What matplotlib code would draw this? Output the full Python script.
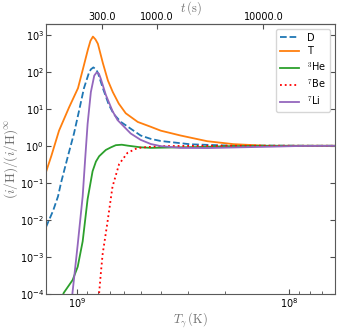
import numpy as np
import matplotlib
matplotlib.use("Agg")
import matplotlib.pyplot as plt
from matplotlib.ticker import FixedLocator, FormatStrFormatter, NullLocator, NullFormatter

plt.rcParams['mathtext.fontset'] = 'cm'

# values: photon temperature (K) and (i/H)/(i/H)^inf
T_D = [1.40e9, 1.296e9, 1.228e9, 1.189e9, 1.102e9, 1.033e9, 0.979e9, 0.927e9, 0.878e9,
       0.860e9, 0.837e9, 0.814e9, 0.797e9, 0.755e9, 0.708e9, 0.670e9, 0.621e9, 0.558e9,
       0.501e9, 0.449e9, 0.403e9, 0.292e9, 0.200e9, 0.0608e9]
D = [6.3e-3, 0.0175, 0.0431, 0.100, 0.538, 2.15, 8.55, 36.2, 94.7,
     117, 132, 117, 94.7, 36.2, 13.0, 7.14, 4.42, 2.90,
     1.90, 1.54, 1.35, 1.10, 1.02, 1.0]

T_T = [1.40e9, 1.32e9, 1.215e9, 1.09e9, 0.989e9, 0.937e9, 0.888e9, 0.864e9, 0.841e9,
       0.818e9, 0.797e9, 0.755e9, 0.715e9, 0.678e9, 0.635e9, 0.589e9, 0.517e9, 0.449e9,
       0.403e9, 0.325e9, 0.243e9, 0.183e9, 0.127e9, 0.0608e9]
Tr = [0.194, 0.538, 2.57, 10.9, 36.2, 120, 401, 689, 900,
      754, 575, 173, 58.6, 28.5, 13.8, 7.59, 4.42, 3.27,
      2.57, 1.90, 1.33, 1.11, 1.0, 1.0]

T_He3 = [1.176e9, 1.155e9, 1.048e9, 0.992e9, 0.940e9, 0.891e9, 0.844e9, 0.814e9, 0.786e9,
         0.752e9, 0.731e9, 0.692e9, 0.656e9, 0.615e9, 0.576e9, 0.501e9, 0.449e9, 0.362e9,
         0.262e9, 0.189e9, 0.137e9, 0.0608e9]
He3 = [7.8e-5, 1.05e-4, 2.35e-4, 5.35e-4, 2.60e-3, 0.0360, 0.206, 0.375, 0.522,
       0.664, 0.773, 0.908, 1.04, 1.07, 1.01, 0.91, 0.88, 0.90,
       0.93, 0.98, 1.0, 1.0]

T_Be7 = [0.797e9, 0.786e9, 0.772e9, 0.757e9, 0.718e9, 0.680e9, 0.633e9, 0.578e9, 0.519e9,
         0.466e9, 0.403e9, 0.262e9, 0.0608e9]
Be7 = [7.8e-5, 1.05e-4, 3.52e-4, 1.17e-3, 8.65e-3, 0.0786, 0.319, 0.645, 0.87,
       0.925, 0.98, 1.0, 1.0]

T_Li7 = [1.067e9, 1.050e9, 0.992e9, 0.940e9, 0.914e9, 0.891e9, 0.860e9, 0.829e9, 0.808e9,
         0.788e9, 0.772e9, 0.731e9, 0.680e9, 0.644e9, 0.558e9, 0.501e9, 0.449e9, 0.403e9,
         0.325e9, 0.243e9, 0.170e9, 0.119e9, 0.0888e9, 0.0608e9]
Li7 = [4.28e-5, 1.05e-4, 2.13e-3, 0.0431, 0.477, 3.91, 28.5, 79.1, 96.5,
       89.2, 64.9, 23.8, 8.71, 4.98, 2.15, 1.45, 1.12, 0.98,
       0.88, 0.87, 0.91, 0.95, 0.99, 1.0]

labels = ["D", "T", "$^3$He", "$^7$Be", "$^7$Li"]
t_ticks = [300, 1000, 10000]

fig = plt.figure(figsize=(3.38, 3.30), dpi=100)
ax = fig.add_axes([0.136, 0.11, 0.855, 0.818])

ax.plot(T_D, D, color='#1f77b4', ls='--', lw=1.3, label=labels[0])
ax.plot(T_T, Tr, color='#ff7f0e', lw=1.3, label=labels[1])
ax.plot(T_He3, He3, color='#2ca02c', lw=1.3, label=labels[2])
ax.plot(T_Be7, Be7, color='red', ls=':', lw=1.3, label=labels[3])
ax.plot(T_Li7, Li7, color='#9467bd', lw=1.3, label=labels[4])

ax.set_xscale('log')
ax.set_yscale('log')
ax.set_xlim(1.40e9, 6.08e7)
ax.set_ylim(1e-4, 2e3)
ax.yaxis.set_minor_locator(NullLocator())
ax.xaxis.set_minor_formatter(NullFormatter())
ax.tick_params(which='both', direction='in', labelsize=7, color='0.3', pad=1.5)
ax.tick_params(axis='y', right=True)
ax.tick_params(which='major', length=3.5)
ax.tick_params(which='minor', length=2)
for s in ax.spines.values():
    s.set_color('0.35')

ax.set_xlabel(r'$T_\gamma\,(\mathrm{K})$', fontsize=9, color='0.45', labelpad=0)
ax.set_ylabel(r'$(i/\mathrm{H})/(i/\mathrm{H})^{\infty}$', fontsize=9.5, color='0.45', labelpad=0)

# time axis on top, t ~ 1/T^2
sec = ax.secondary_xaxis('top', functions=(lambda T: 1.75e20 / np.asarray(T) ** 2,
                                           lambda t: np.sqrt(1.75e20 / np.asarray(t))))
sec.xaxis.set_major_locator(FixedLocator(t_ticks))
sec.xaxis.set_major_formatter(FormatStrFormatter('%.1f'))
sec.xaxis.set_minor_locator(NullLocator())
sec.tick_params(direction='in', labelsize=7, length=3.5, color='0.3', pad=1.5)
sec.spines['top'].set_color('0.35')
sec.set_xlabel(r'$t\,(\mathrm{s})$', fontsize=9, color='0.45', labelpad=0)

ax.legend(loc='upper right', fontsize=7, handlelength=2.0, labelspacing=0.4,
          borderaxespad=0.5)

fig.savefig('out.png', dpi=100)
